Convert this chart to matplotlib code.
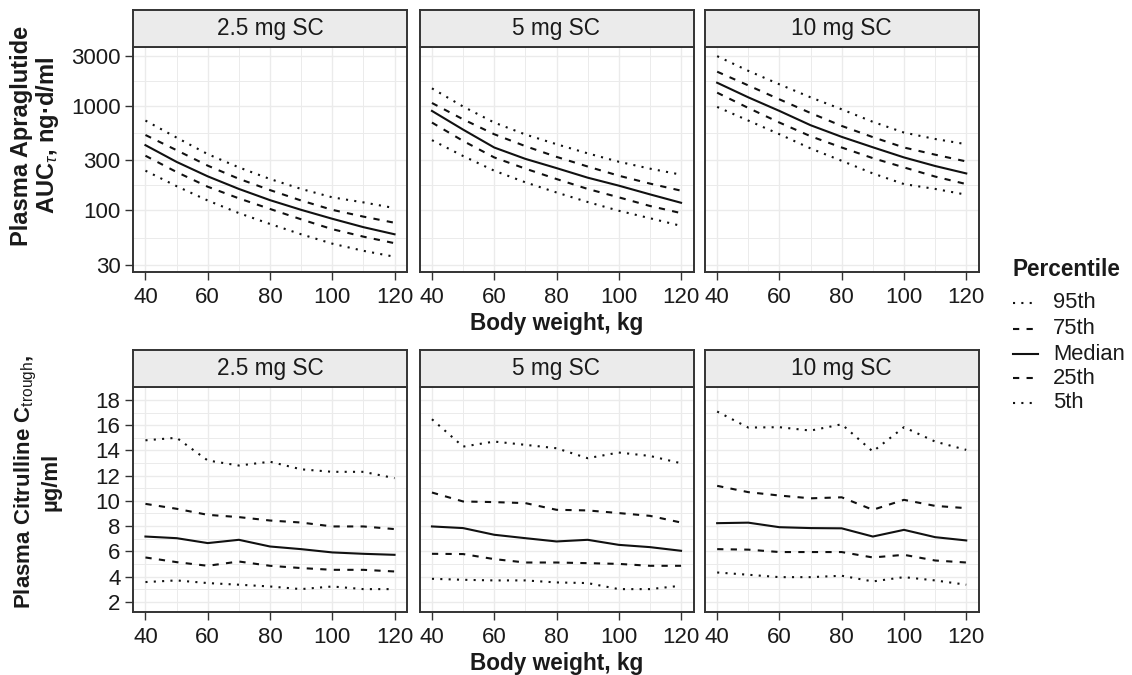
import numpy as np
import matplotlib
matplotlib.use("Agg")
import matplotlib.pyplot as plt
from matplotlib.lines import Line2D

plt.rcParams['font.family'] = ['Liberation Sans', 'DejaVu Sans']
plt.rcParams['mathtext.fontset'] = 'custom'
plt.rcParams['mathtext.rm'] = 'Liberation Sans'
plt.rcParams['mathtext.it'] = 'Liberation Sans:italic'
plt.rcParams['mathtext.bf'] = 'Liberation Sans:bold'

# body weight grid (kg)
weights = [40, 50, 60, 70, 80, 90, 100, 110, 120]
doses = ['2.5 mg SC', '5 mg SC', '10 mg SC']
percentiles = ['95th', '75th', 'Median', '25th', '5th']

# Plasma apraglutide AUC (ng·d/ml), per dose, per percentile
auc = {
    '2.5 mg SC': {
        '95th':   [720, 495, 344, 257, 199, 160, 133, 119, 105],
        '75th':   [524, 375, 267, 200, 156, 124, 101, 87, 76],
        'Median': [419, 290, 211, 160, 125, 101, 83, 69, 59],
        '25th':   [332, 232, 168, 130, 103, 82, 66, 56, 48.5],
        '5th':    [239, 170, 124, 94, 74, 59, 48, 41, 36],
    },
    '5 mg SC': {
        '95th':   [1462, 980, 689, 530, 428, 350, 291, 250, 219],
        '75th':   [1060, 740, 533, 410, 324, 262, 214, 180, 154],
        'Median': [890, 590, 398, 310, 253, 205, 172, 142, 118],
        '25th':   [689, 460, 320, 250, 199, 160, 133, 110, 94],
        '5th':    [468, 330, 239, 185, 148, 120, 99, 84, 71],
    },
    '10 mg SC': {
        '95th':   [2970, 2150, 1597, 1200, 922, 700, 553, 480, 428],
        '75th':   [2110, 1560, 1148, 850, 640, 500, 398, 340, 293],
        'Median': [1655, 1200, 890, 650, 503, 400, 320, 265, 225],
        '25th':   [1330, 950, 689, 510, 398, 315, 257, 210, 178],
        '5th':    [972, 720, 533, 390, 297, 225, 178, 160, 141],
    },
}

# Plasma citrulline Ctrough (µg/ml)
cit = {
    '2.5 mg SC': {
        '95th':   [14.8, 15.0, 13.2, 12.8, 13.1, 12.5, 12.3, 12.3, 11.8],
        '75th':   [9.76, 9.37, 8.89, 8.71, 8.44, 8.28, 7.97, 7.97, 7.76],
        'Median': [7.17, 7.04, 6.65, 6.91, 6.38, 6.17, 5.91, 5.80, 5.72],
        '25th':   [5.51, 5.14, 4.85, 5.19, 4.85, 4.67, 4.53, 4.53, 4.40],
        '5th':    [3.56, 3.69, 3.48, 3.35, 3.21, 3.00, 3.21, 3.00, 3.00],
    },
    '5 mg SC': {
        '95th':   [16.47, 14.30, 14.70, 14.44, 14.17, 13.38, 13.83, 13.56, 12.98],
        '75th':   [10.66, 9.95, 9.90, 9.82, 9.29, 9.24, 9.03, 8.81, 8.28],
        'Median': [7.97, 7.84, 7.31, 7.04, 6.78, 6.91, 6.51, 6.33, 6.04],
        '25th':   [5.80, 5.78, 5.38, 5.11, 5.11, 5.06, 5.00, 4.85, 4.85],
        '5th':    [3.82, 3.74, 3.69, 3.69, 3.53, 3.48, 3.00, 3.00, 3.27],
    },
    '10 mg SC': {
        '95th':   [17.08, 15.81, 15.84, 15.57, 16.07, 13.91, 15.84, 14.70, 14.04],
        '75th':   [11.19, 10.69, 10.42, 10.20, 10.28, 9.29, 10.08, 9.60, 9.42],
        'Median': [8.23, 8.27, 7.91, 7.84, 7.82, 7.17, 7.70, 7.12, 6.86],
        '25th':   [6.17, 6.13, 5.94, 5.94, 5.94, 5.51, 5.72, 5.27, 5.11],
        '5th':    [4.32, 4.14, 3.95, 3.95, 4.06, 3.61, 3.95, 3.69, 3.35],
    },
}

auc_ticks = [30, 100, 300, 1000, 3000]
cit_ticks = [2, 4, 6, 8, 10, 12, 14, 16, 18]
x_ticks = [40, 60, 80, 100, 120]

styles = {
    '95th': (0, (1, 3)),
    '75th': (0, (3, 3.5)),
    'Median': '-',
    '25th': (0, (3, 3.5)),
    '5th': (0, (1, 3)),
}

dark = '#333333'
txt = '#1a1a1a'
grid_c = '#ebebeb'

W, H = 1132, 675
fig = plt.figure(figsize=(W / 100, H / 100), dpi=100)

col_left = [133, 419.5, 704.7]
panel_w = 274
rows = [
    # (plot top px, plot bottom px, strip top px)
    (46.7, 271.7, 10),
    (386.7, 611.7, 349.5),
]


def px_axes(x0, y0, x1, y1):
    return fig.add_axes([x0 / W, 1 - y1 / H, (x1 - x0) / W, (y1 - y0) / H])


for r, (top, bot, stop) in enumerate(rows):
    data = auc if r == 0 else cit
    for c, dose in enumerate(doses):
        x0 = col_left[c]
        ax = px_axes(x0, top, x0 + panel_w, bot)
        for p in percentiles:
            ax.plot(weights, data[dose][p], color='#111111', lw=1.5,
                    linestyle=styles[p])
        ax.set_xlim(36, 124)
        ax.set_xticks(x_ticks)
        ax.set_xticks([50, 70, 90, 110], minor=True)
        if r == 0:
            ax.set_yscale('log')
            ax.set_yticks(auc_ticks)
            ax.set_yticks([np.sqrt(a * b) for a, b in zip([10] + auc_ticks, auc_ticks + [10000])], minor=True)
            ax.set_ylim(25.9, 3656)
            ax.set_yticklabels([str(t) for t in auc_ticks])
        else:
            ax.set_ylim(1.21, 19.05)
            ax.set_yticks(cit_ticks)
            ax.set_yticks([3, 5, 7, 9, 11, 13, 15, 17, 19], minor=True)
            ax.set_yticklabels([str(t) for t in cit_ticks])
        ax.yaxis.set_minor_formatter(matplotlib.ticker.NullFormatter())
        ax.grid(which='major', color=grid_c, lw=1.0)
        ax.grid(which='minor', color=grid_c, lw=0.7)
        ax.set_axisbelow(True)
        ax.tick_params(which='major', length=6, width=1.0, color=dark,
                       labelsize=16, labelcolor=txt, pad=3)
        ax.tick_params(axis='x', which='major', pad=5)
        ax.tick_params(which='minor', length=0)
        if c > 0:
            ax.tick_params(axis='y', which='both', left=False, labelleft=False)
        for s in ax.spines.values():
            s.set_color(dark)
            s.set_linewidth(1.4)

        # facet strip
        sax = px_axes(x0, stop, x0 + panel_w, top)
        sax.set_xticks([])
        sax.set_yticks([])
        sax.set_facecolor('#ebebeb')
        for s in sax.spines.values():
            s.set_color(dark)
            s.set_linewidth(1.4)
        sax.text(0.5, 0.5, dose, ha='center', va='center', fontsize=16.3,
                 color=txt, transform=sax.transAxes)

    # x label under middle column
    fig.text((col_left[1] + panel_w / 2) / W, 1 - (bot + 52) / H,
             'Body weight, kg', ha='center', va='center', fontsize=16.3,
             fontweight='bold', color=txt)

fig.text(36 / W, 1 - 136 / H,
         'Plasma Apraglutide\nAUC$_{\\tau}$, ng·d/ml', rotation=90,
         ha='center', va='center', fontsize=17, fontweight='bold',
         color=txt, multialignment='center', linespacing=1.05)
fig.text(37 / W, 1 - 482 / H,
         'Plasma Citrulline C$_{\\mathrm{trough}}$,\nµg/ml', rotation=90,
         ha='center', va='center', fontsize=16, fontweight='bold',
         color=txt, multialignment='center', linespacing=1.1)

# legend
fig.text(1013 / W, 1 - 269 / H, 'Percentile', ha='left', va='center',
         fontsize=16.3, fontweight='bold', color=txt)
leg_y = [303, 329, 354, 378, 403]
for p, yy in zip(percentiles, leg_y):
    fig.add_artist(Line2D([1013 / W, 1038 / W], [1 - yy / H, 1 - yy / H],
                          color='#111111', lw=1.5, linestyle=styles[p]))
    fig.text(1053 / W, 1 - yy / H, p, ha='left', va='center',
             fontsize=15.8, color=txt)

plt.savefig('out.png', dpi=100)
